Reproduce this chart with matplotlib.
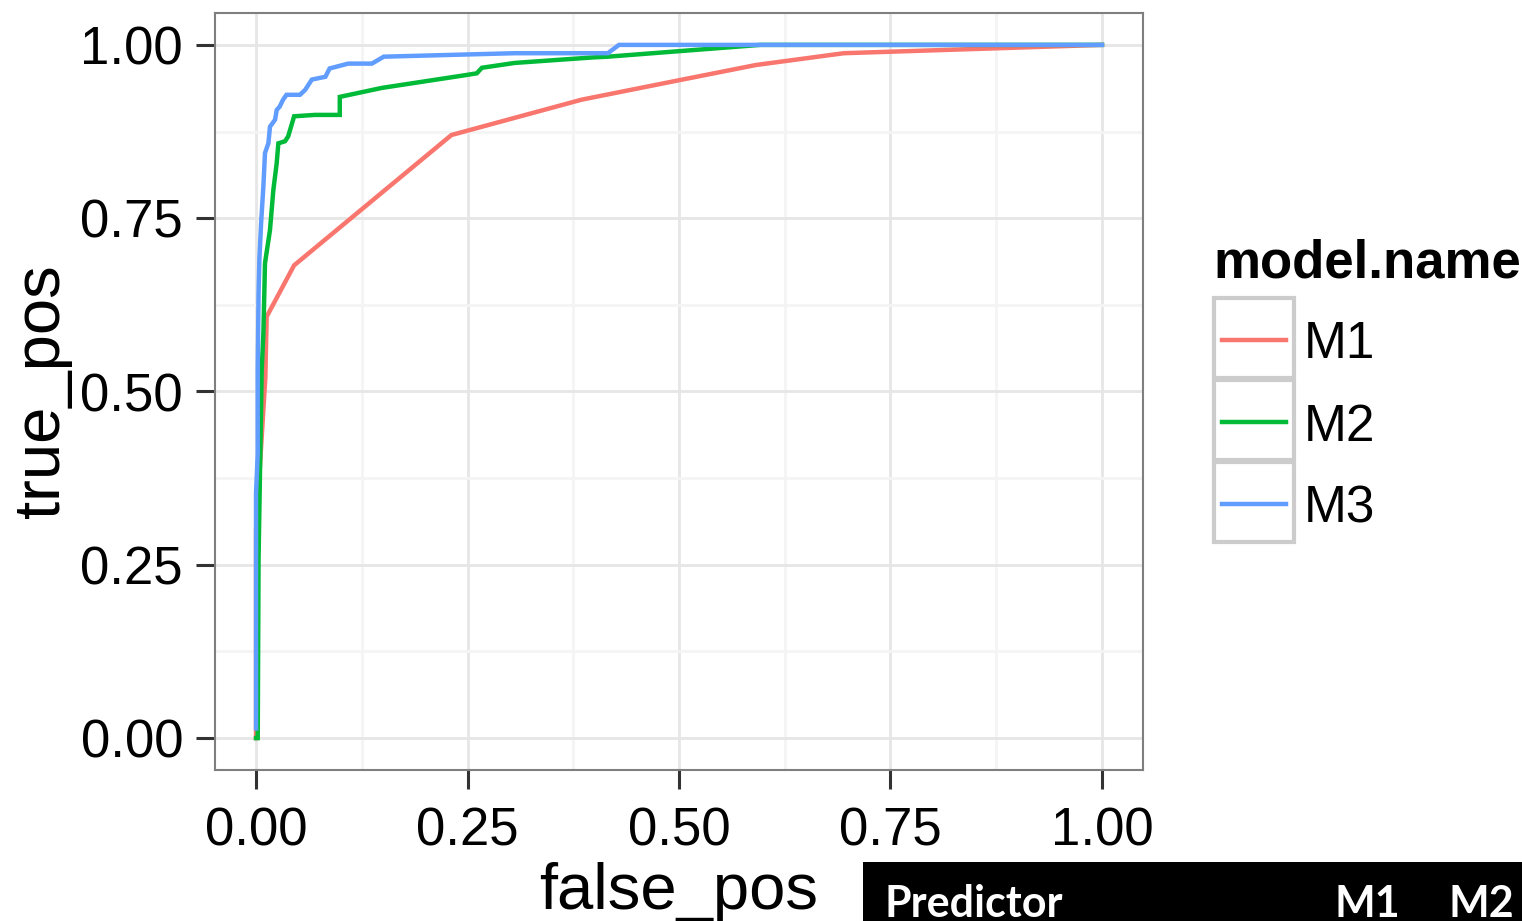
import numpy as np
import matplotlib.pyplot as plt
from matplotlib.patches import Rectangle
from matplotlib.lines import Line2D

plt.rcParams['font.family'] = ['Liberation Sans', 'DejaVu Sans']

# ROC curves
m1_fp = [0.0, 0.0, 0.011, 0.0126, 0.045, 0.231, 0.385, 0.50, 0.591, 0.695, 1.0]
m1_tp = [0.0, 0.30, 0.52, 0.608, 0.682, 0.870, 0.921, 0.949, 0.971, 0.988, 1.0]

m2_fp = [0.0, 0.002, 0.003, 0.0067, 0.0087, 0.0106, 0.0165, 0.0205, 0.0244, 0.0264,
         0.0343, 0.038, 0.045, 0.0697, 0.099, 0.099, 0.149, 0.251, 0.261, 0.267,
         0.306, 0.399, 0.416, 0.596, 1.0]
m2_tp = [0.0, 0.0, 0.26, 0.531, 0.584, 0.685, 0.733, 0.791, 0.829, 0.858,
         0.861, 0.868, 0.897, 0.899, 0.899, 0.925, 0.938, 0.957, 0.959, 0.967,
         0.974, 0.982, 0.983, 1.0, 1.0]

m3_fp = [0.0, 0.0, 0.002, 0.002, 0.003, 0.004, 0.006, 0.0087, 0.0106, 0.0146, 0.0165,
         0.0225, 0.0244, 0.028, 0.032, 0.036, 0.052, 0.058, 0.066, 0.082, 0.087,
         0.109, 0.137, 0.151, 0.306, 0.416, 0.429, 1.0]
m3_tp = [0.014, 0.353, 0.41, 0.531, 0.642, 0.692, 0.743, 0.796, 0.844, 0.858, 0.882,
         0.892, 0.906, 0.911, 0.921, 0.928, 0.928, 0.935, 0.950, 0.954, 0.966,
         0.973, 0.973, 0.983, 0.988, 0.988, 1.0, 1.0]

models = ['M1', 'M2', 'M3']
colors = ['#F8766D', '#00BA38', '#619CFF']
ticks = [0.0, 0.25, 0.5, 0.75, 1.0]
tick_labels = ['0.00', '0.25', '0.50', '0.75', '1.00']
minor = [0.125, 0.375, 0.625, 0.875]

fig = plt.figure(figsize=(15.22, 9.21), dpi=100)
ax = fig.add_axes([215/1522, 1 - 770/921, (1143-215)/1522, (770-13)/921])

for fp, tp, c in zip([m1_fp, m2_fp, m3_fp], [m1_tp, m2_tp, m3_tp], colors):
    ax.plot(fp, tp, color=c, lw=3.2, solid_joinstyle='miter', zorder=3)

ax.set_xlim(-0.0485, 1.0485)
ax.set_ylim(-0.046, 1.046)
ax.set_xticks(ticks)
ax.set_xticklabels(tick_labels)
ax.set_yticks(ticks)
ax.set_yticklabels(tick_labels)
ax.set_xticks(minor, minor=True)
ax.set_yticks(minor, minor=True)
ax.grid(True, which='major', color='#e6e6e6', lw=2.0, zorder=0)
ax.grid(True, which='minor', color='#f4f4f4', lw=2.0, zorder=0)
ax.set_axisbelow(True)
ax.tick_params(which='major', length=14, width=2.2, color='#333333',
               labelsize=38, pad=9)
ax.tick_params(axis='x', which='major', pad=12)
ax.tick_params(which='minor', length=0)
for s in ax.spines.values():
    s.set_color('#7f7f7f')
    s.set_linewidth(1.5)

ax.set_xlabel('false_pos', fontsize=47, labelpad=4)
ax.set_ylabel('true_pos', fontsize=47, labelpad=6)

# legend drawn as ggplot style keys
fig.text(1213/1522, 1 - 263/921, 'model.name', fontsize=38, fontweight='bold',
         ha='left', va='center')
key_tops = [298, 380, 462]
for name, c, top in zip(models, colors, key_tops):
    fig.patches.append(Rectangle((1214/1522, 1 - (top + 80)/921), 80/1522, 80/921,
                                 transform=fig.transFigure, facecolor='white',
                                 edgecolor='#cccccc', lw=3))
    yc = 1 - (top + 42)/921
    fig.lines.append(Line2D([1222/1522, 1286/1522], [yc, yc], transform=fig.transFigure,
                            color=c, lw=3.2))
    fig.text(1304/1522, yc - 5/921, name, fontsize=37, ha='left', va='center')

# black header strip at the bottom
fig.patches.append(Rectangle((863/1522, 0), (1522-863)/1522, 59/921,
                             transform=fig.transFigure, facecolor='black', edgecolor='none'))
fig.text(884/1522, 1 - 917/921, 'Predictor', fontsize=31, fontweight='bold',
         color='white', family=['Lato', 'DejaVu Sans'], ha='left', va='baseline')
fig.text(1334/1522, 1 - 917/921, 'M1', fontsize=31, fontweight='bold',
         color='white', family=['Lato', 'DejaVu Sans'], ha='left', va='baseline')
fig.text(1449/1522, 1 - 917/921, 'M2', fontsize=31, fontweight='bold',
         color='white', family=['Lato', 'DejaVu Sans'], ha='left', va='baseline')

fig.savefig('out.png', dpi=100)
